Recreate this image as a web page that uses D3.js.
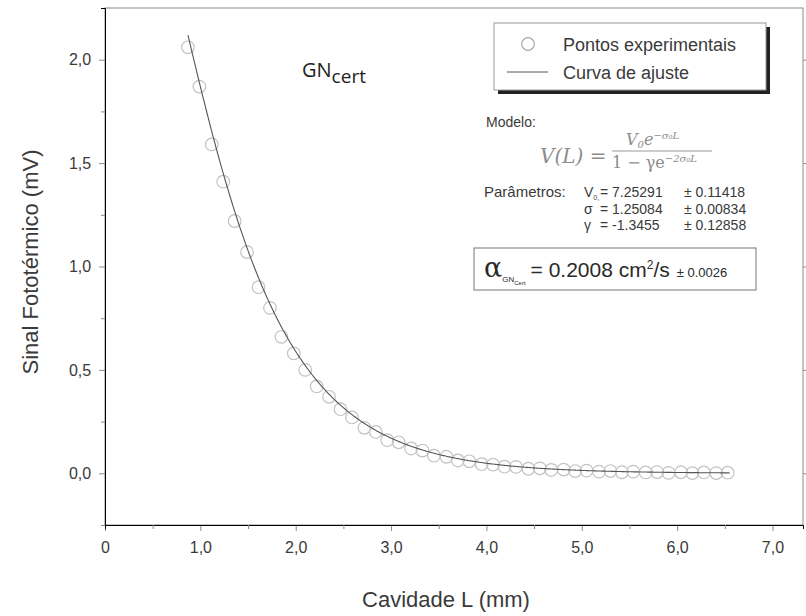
<!DOCTYPE html>
<html>
<head>
<meta charset="utf-8">
<script src="https://cdn.jsdelivr.net/npm/d3@7"></script>
<style>
  body { margin: 0; background: #fff; }
  svg { font-family: "Liberation Sans", Arial, sans-serif; }
</style>
</head>
<body>
<div id="chart"></div>
<script>
// experimental points (cavity length in mm, signal in mV)
const cavidade = [0.87, 0.99, 1.12, 1.24, 1.36, 1.49, 1.61, 1.73, 1.85, 1.98, 2.10, 2.22, 2.35, 2.47,
    2.59, 2.72, 2.84, 2.96, 3.08, 3.21, 3.33, 3.45, 3.58, 3.70, 3.82, 3.95, 4.07, 4.19, 4.31, 4.44,
    4.56, 4.68, 4.81, 4.93, 5.05, 5.18, 5.30, 5.42, 5.54, 5.67, 5.79, 5.91, 6.04, 6.16, 6.28, 6.41, 6.53];
const sinal = [2.06, 1.87, 1.59, 1.41, 1.22, 1.07, 0.90, 0.80, 0.66, 0.58, 0.50, 0.42, 0.37, 0.31,
    0.27, 0.22, 0.20, 0.16, 0.15, 0.12, 0.11, 0.085, 0.08, 0.062, 0.058, 0.044, 0.042, 0.032, 0.031, 0.022,
    0.024, 0.016, 0.018, 0.011, 0.013, 0.008, 0.011, 0.005, 0.008, 0.004, 0.006, 0.002, 0.005, 0.001, 0.004, 0.001, 0.003];

// fitted model parameters shown on the chart
const V0 = 7.25291, sigma = 1.25084, gamma = -1.3455;

const xTicks = [0, 1, 2, 3, 4, 5, 6, 7];
const xTickLabels = ['0', '1,0', '2,0', '3,0', '4,0', '5,0', '6,0', '7,0'];
const yTicks = [0, 0.5, 1.0, 1.5, 2.0];
const yTickLabels = ['0,0', '0,5', '1,0', '1,5', '2,0'];

const W = 806, H = 616;
const svg = d3.select('#chart').append('svg')
    .attr('width', W)
    .attr('height', H);

const x = d3.scaleLinear().domain([0, 7.32]).range([105, 803]);
const y = d3.scaleLinear().domain([-0.25, 2.25]).range([525, 8]);

const axisColor = '#8a8a8a';
const textColor = '#3a3a3a';

// frame
svg.append('rect')
    .attr('x', x.range()[0]).attr('y', y.range()[1])
    .attr('width', x.range()[1] - x.range()[0])
    .attr('height', y.range()[0] - y.range()[1])
    .attr('fill', 'none')
    .attr('stroke', axisColor)
    .attr('stroke-width', 1);

// bottom axis
const xAxis = svg.append('g')
    .attr('transform', `translate(0,${y.range()[0]})`)
    .call(d3.axisBottom(x).tickValues(xTicks).tickSize(6).tickFormat((d, i) => xTickLabels[i]));
xAxis.append('g').call(d3.axisBottom(x).tickValues(d3.range(0.5, 7.3, 1)).tickSize(4).tickFormat(''));

// left axis
const yAxis = svg.append('g')
    .attr('transform', `translate(${x.range()[0]},0)`)
    .call(d3.axisLeft(y).tickValues(yTicks).tickSize(6).tickFormat((d, i) => yTickLabels[i]));
yAxis.append('g').call(d3.axisLeft(y).tickValues([-0.25, 0.25, 0.75, 1.25, 1.75]).tickSize(4).tickFormat(''));

[xAxis, yAxis].forEach(g => {
    g.select('.domain').remove();
    g.selectAll('line').attr('stroke', axisColor);
    g.selectAll('text').attr('fill', textColor).style('font-size', '16px');
});
xAxis.selectAll('text').attr('dy', '1.2em');
yAxis.selectAll('text').attr('dx', '-0.3em');

// right axis ticks
svg.append('g')
    .attr('transform', `translate(${x.range()[1]},0)`)
    .call(d3.axisRight(y).tickValues(yTicks).tickSize(4).tickFormat(''))
    .call(g => g.select('.domain').remove())
    .selectAll('line').attr('stroke', axisColor);

// axis titles
svg.append('text')
    .attr('x', 446).attr('y', 607)
    .attr('text-anchor', 'middle')
    .attr('fill', textColor)
    .style('font-size', '22px')
    .text('Cavidade L (mm)');

svg.append('text')
    .attr('transform', 'translate(38,262) rotate(-90)')
    .attr('text-anchor', 'middle')
    .attr('fill', textColor)
    .style('font-size', '22px')
    .text('Sinal Fototérmico (mV)');

// experimental points
svg.append('g').selectAll('circle')
    .data(cavidade)
    .join('circle')
    .attr('cx', d => x(d))
    .attr('cy', (d, i) => y(sinal[i]))
    .attr('r', 6.3)
    .attr('fill', 'none')
    .attr('stroke', '#c2c2c2')
    .attr('stroke-width', 1.2);

// fitted curve
const model = L => V0 * Math.exp(-sigma * L) / (1 - gamma * Math.exp(-2 * sigma * L));
const curveX = d3.range(0.87, 6.56, 0.01);
svg.append('path')
    .datum(curveX)
    .attr('fill', 'none')
    .attr('stroke', '#555')
    .attr('stroke-width', 1.1)
    .attr('d', d3.line().x(d => x(d)).y(d => y(model(d))));

// sample label
const gn = svg.append('text')
    .attr('x', 302).attr('y', 77)
    .attr('fill', '#222')
    .style('font-family', '"Open Sans", sans-serif')
    .style('font-size', '20px');
gn.append('tspan').text('GN');
gn.append('tspan').attr('dy', 6).style('font-size', '19px').text('cert');

// legend
const lg = svg.append('g');
lg.append('rect').attr('x', 498).attr('y', 27).attr('width', 272).attr('height', 67).attr('fill', '#222');
lg.append('rect').attr('x', 494).attr('y', 23).attr('width', 272).attr('height', 67)
    .attr('fill', '#fff').attr('stroke', '#999');
lg.append('circle').attr('cx', 528).attr('cy', 44).attr('r', 6.3)
    .attr('fill', 'none').attr('stroke', '#aaa').attr('stroke-width', 1.2);
lg.append('line').attr('x1', 507).attr('x2', 548).attr('y1', 72).attr('y2', 72)
    .attr('stroke', '#555');
lg.append('text').attr('x', 563).attr('y', 51).attr('fill', textColor)
    .style('font-size', '18px').text('Pontos experimentais');
lg.append('text').attr('x', 563).attr('y', 79).attr('fill', textColor)
    .style('font-size', '18px').text('Curva de ajuste');

// model
svg.append('text').attr('x', 486).attr('y', 127).attr('fill', textColor)
    .style('font-size', '14px').text('Modelo:');
const f = svg.append('g').attr('fill', '#8c8c8c')
    .style('font-family', '"DejaVu Serif", serif').style('font-style', 'italic');
f.append('text').attr('x', 540).attr('y', 163).style('font-size', '20px').text('V(L) =');
const num = f.append('text').attr('x', 626).attr('y', 145).style('font-size', '16px');
num.append('tspan').text('V');
num.append('tspan').attr('dy', 3).style('font-size', '10px').text('0');
num.append('tspan').attr('dy', -3).text('e');
num.append('tspan').attr('dy', -6).style('font-size', '10px').text('−σ₀L');
f.append('line').attr('x1', 612).attr('x2', 712).attr('y1', 151).attr('y2', 151)
    .attr('stroke', '#999').attr('stroke-width', 1);
const den = f.append('text').attr('x', 612).attr('y', 168).style('font-size', '16px');
den.append('tspan').style('font-style', 'normal').text('1 − γe');
den.append('tspan').attr('dy', -6).style('font-size', '10px').text('−2σ₀L');

// parameters
const pars = [
    ['V', '0,', '= 7.25291', '± 0.11418'],
    ['σ', '', '= 1.25084', '± 0.00834'],
    ['γ', '', '= -1.3455', '± 0.12858']
];
svg.append('text').attr('x', 484).attr('y', 197).attr('fill', textColor)
    .style('font-size', '15px').text('Parâmetros:');
pars.forEach((p, i) => {
    const yy = 197 + i * 16.5;
    const t = svg.append('text').attr('x', 584).attr('y', yy)
        .attr('fill', textColor).style('font-size', '14px');
    t.append('tspan').text(p[0]);
    if (p[1]) t.append('tspan').attr('dy', 3).style('font-size', '7px').text(p[1]);
    svg.append('text').attr('x', 600).attr('y', yy)
        .attr('fill', textColor).style('font-size', '14px').text(p[2]);
    svg.append('text').attr('x', 684).attr('y', yy)
        .attr('fill', textColor).style('font-size', '14px').text(p[3]);
});

// thermal diffusivity box
svg.append('rect').attr('x', 474).attr('y', 248).attr('width', 282).attr('height', 42)
    .attr('fill', '#fff').attr('stroke', '#777');
const al = svg.append('text').attr('x', 484).attr('y', 277).attr('fill', '#2a2a2a');
al.append('tspan').style('font-family', '"DejaVu Serif", serif').style('font-size', '27px').text('α');
al.append('tspan').attr('dy', 5).style('font-size', '8px').text('GN');
al.append('tspan').attr('dy', 3).style('font-size', '6px').text('Cert');
al.append('tspan').attr('dy', -8).attr('dx', 5).style('font-size', '21px').text('= 0.2008 cm');
al.append('tspan').attr('dy', -8).style('font-size', '12px').text('2');
al.append('tspan').attr('dy', 8).style('font-size', '21px').text('/s');
al.append('tspan').attr('dx', 7).style('font-size', '13px').text('± 0.0026');
</script>
</body>
</html>
